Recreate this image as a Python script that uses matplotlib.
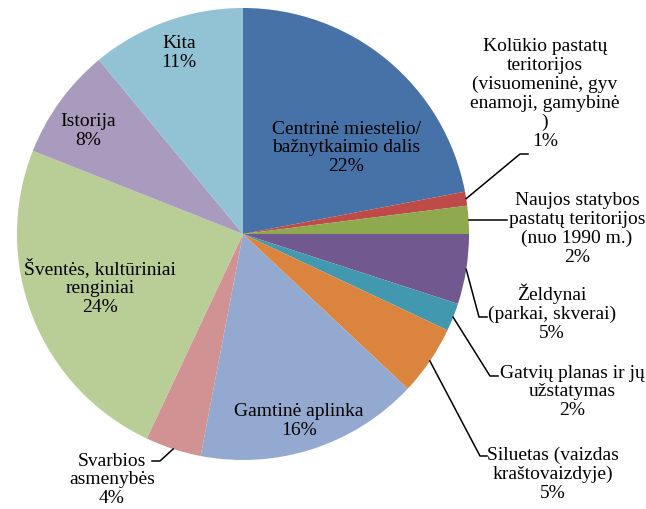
import matplotlib
matplotlib.use('Agg')
import matplotlib.pyplot as plt
import numpy as np

# duomenys
labels = ['Centrinė miestelio/\nbažnytkaimio dalis',
          'Kolūkio pastatų\nteritorijos\n(visuomeninė, gyv\nenamoji, gamybinė\n)',
          'Naujos statybos\npastatų teritorijos\n(nuo 1990 m.)',
          'Želdynai\n(parkai, skverai)',
          'Gatvių planas ir jų\nužstatymas',
          'Siluetas (vaizdas\nkraštovaizdyje)',
          'Gamtinė aplinka',
          'Svarbios\nasmenybės',
          'Šventės, kultūriniai\nrenginiai',
          'Istorija',
          'Kita']
values = [22, 1, 2, 5, 2, 5, 16, 4, 24, 8, 11]
colors = ['#4672A8', '#BE4B48', '#8FA94F', '#71588F', '#4198AF', '#DB843D',
          '#93A9CF', '#D09292', '#B9CD96', '#A99BBD', '#92C3D4']

H = 510
cx, cy, R = 243, H - 235, 226

fig = plt.figure(figsize=(6.46, 5.10), dpi=100)
ax = fig.add_axes([0, 0, 1, 1])
wedges, _ = ax.pie(values, colors=colors, startangle=90, counterclock=False,
                   center=(cx, cy), radius=R,
                   wedgeprops=dict(linewidth=0, antialiased=True))
ax.set_xlim(0, 646)
ax.set_ylim(0, H)
ax.set_aspect('equal')
ax.axis('off')

# etikečių vietos (pikseliais nuo viršaus)
pos = [(346, 148), (545, 94), (577, 229), (552, 313), (572, 392), (553, 474),
       (299, 421), (112, 480), (100, 287), (88, 131), (179, 53)]

# išnašų linijos: lūžio taškai
leaders = {1: [(520, 155), (528, 155)],
           2: [(507, 222)],
           3: [(479, 318), (487, 318)],
           4: [(490, 377), (498, 377)],
           5: [(480, 457), (487, 457)],
           7: [(160, 462), (152, 462)]}

for i, w in enumerate(wedges):
    txt = labels[i] + '\n' + str(values[i]) + '%'
    x, y = pos[i]
    ax.text(x, H - y, txt, ha='center', va='center', multialignment='center',
            fontsize=14, linespacing=1.13, family='Liberation Serif', color='black')
    if i in leaders:
        a = np.deg2rad((w.theta1 + w.theta2) / 2)
        sx = cx + R * np.cos(a)
        sy = cy + R * np.sin(a)
        pts = leaders[i]
        xs = [sx] + [p[0] for p in pts]
        ys = [sy] + [H - p[1] for p in pts]
        if i == 2:
            ys = [sy, sy]
        ax.plot(xs, ys, color='black', linewidth=1.1)

plt.savefig('out.png', dpi=100)
